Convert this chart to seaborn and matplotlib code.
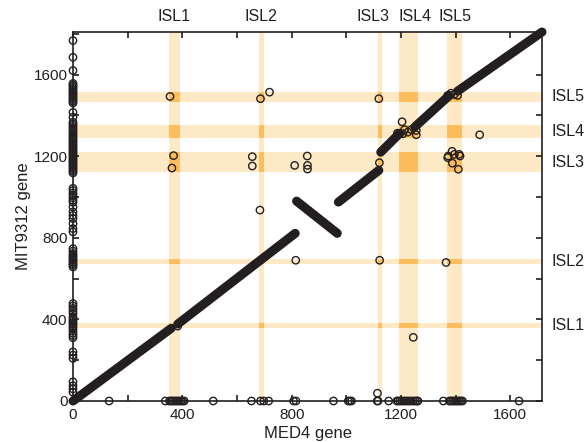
import matplotlib
matplotlib.use("Agg")
import matplotlib.pyplot as plt
import matplotlib.transforms as mtransforms
import seaborn as sns
import pandas as pd
import numpy as np
from matplotlib.patches import Rectangle

# ---------------- data ----------------
med4_total = 1716
mit_total = 1809

isl_names = ["ISL1", "ISL2", "ISL3", "ISL4", "ISL5"]
med4_isl_start = [350, 680, 1116, 1191, 1367]
med4_isl_end = [392, 698, 1131, 1261, 1425]
mit_isl_start = [359, 674, 1122, 1289, 1468]
mit_isl_end = [383, 695, 1220, 1351, 1514]

# syntenic ortholog runs (dense diagonal), endpoints
run_med4_start = [0, 383, 818, 971, 1126, 1250, 1407]
run_mit_start = [0, 377, 980, 975, 1220, 1343, 1519]
run_med4_end = [359, 813, 967, 1119, 1195, 1377, 1716]
run_mit_end = [356, 822, 822, 1131, 1312, 1498, 1809]

# orthologs outside the syntenic runs
off_med4 = [355, 686, 719, 368, 362, 656, 656, 811, 857, 858, 858, 684,
            1119, 1121, 1204, 1195, 1213, 1225, 1238, 1256, 1256, 1207, 1187,
            1488, 1371, 1383, 1395, 1407, 1373, 1387, 1395, 1413, 1416, 1371,
            1388, 1410, 1122, 1365, 1245, 1114, 815, 383]
off_mit = [1493, 1482, 1514, 1203, 1142, 1198, 1152, 1155, 1201, 1155, 1137, 936,
           1482, 1168, 1369, 1310, 1330, 1318, 1330, 1326, 1305, 1310, 1313,
           1305, 1498, 1509, 1503, 1498, 1201, 1224, 1209, 1209, 1201, 1193,
           1166, 1136, 690, 679, 312, 38, 690, 367]

# MIT9312 genes without MED4 ortholog (drawn on the left axis)
mit_only = [1767, 1685, 1620,
            1557, 1549, 1541, 1533, 1525, 1517, 1509, 1501, 1493, 1485, 1477, 1469, 1461,
            1415, 1392,
            1367, 1358, 1349, 1340, 1331, 1322, 1313, 1304, 1295, 1286, 1278,
            1270, 1262, 1254, 1246, 1238, 1230, 1222, 1214, 1206, 1198, 1190, 1182,
            1174, 1166, 1158, 1150, 1142, 1134, 1126, 1118,
            1043, 1032, 1020, 1008, 996, 984, 974,
            951, 927, 910, 894, 870, 845, 829,
            747, 735, 723, 714, 706, 698, 690, 682, 674, 666, 657,
            478, 466, 454, 441, 429, 413, 402, 392, 383, 375, 365, 356, 343, 331, 320, 310,
            241, 225, 209,
            94, 75, 59, 43]

# MED4 genes without MIT9312 ortholog (drawn on the bottom axis)
med4_only = [132, 338, 353, 359, 365, 371, 377, 383, 389, 395, 401, 407,
             513, 653, 686, 698, 716, 807, 816,
             953, 1007, 1013, 1019, 1113, 1116, 1155, 1185,
             1189, 1196, 1203, 1210, 1217, 1224, 1231, 1238, 1245, 1252, 1259, 1262,
             1355, 1377, 1383, 1389, 1395, 1401, 1407, 1413, 1419, 1425, 1632]

# ---------------- figure ----------------
sns.set_theme(style="white")
plt.rcParams['font.family'] = ['Liberation Sans', 'DejaVu Sans']

fig = plt.figure(figsize=(5.84, 4.42), dpi=100)
ax = fig.add_axes([73 / 584, 1 - 401 / 442, (542 - 73) / 584, (401 - 32) / 442])

ink = "#231f20"
band = "#fde9c6"
cross = "#fdbd5c"

ax.set_xlim(0, med4_total)
ax.set_ylim(0, mit_total)

# island bands
for s, e in zip(med4_isl_start, med4_isl_end):
    ax.axvspan(s, e, color=band, lw=0, zorder=0)
for s, e in zip(mit_isl_start, mit_isl_end):
    ax.axhspan(s, e, color=band, lw=0, zorder=0)
for xs, xe in zip(med4_isl_start, med4_isl_end):
    for ys, ye in zip(mit_isl_start, mit_isl_end):
        ax.add_patch(Rectangle((xs, ys), xe - xs, ye - ys, color=cross, lw=0, zorder=0.5))

# syntenic runs
runs = pd.DataFrame({
    "run": list(range(len(run_med4_start))) * 2,
    "MED4": run_med4_start + run_med4_end,
    "MIT9312": run_mit_start + run_mit_end,
})
sns.lineplot(data=runs, x="MED4", y="MIT9312", units="run", estimator=None, sort=False,
             color=ink, linewidth=6.5, solid_capstyle="round", ax=ax, zorder=3,
             clip_on=False, legend=False)

# scattered orthologs and unmatched genes
pts = pd.DataFrame({
    "MED4": off_med4 + [0] * len(mit_only) + med4_only,
    "MIT9312": off_mit + mit_only + [0] * len(med4_only),
})
sns.scatterplot(data=pts, x="MED4", y="MIT9312", marker="o", s=28, facecolor="none",
                edgecolor=ink, linewidth=1.0, ax=ax, zorder=4, clip_on=False, legend=False)

# axes styling
for sp in ax.spines.values():
    sp.set_visible(True)
    sp.set_color(ink)
    sp.set_linewidth(1.2)

xt = np.arange(0, med4_total + 1, 200)
yt = np.arange(0, mit_total + 1, 200)
ax.set_xticks(xt)
ax.set_xticklabels([str(v) if v % 400 == 0 else "" for v in xt])
ax.set_yticks(yt)
ax.set_yticklabels([str(v) if v % 400 == 0 else "" for v in yt])
ax.tick_params(direction="in", length=4.5, width=1.2, color=ink, labelcolor=ink,
               labelsize=11, top=True, right=True, bottom=True, left=True)
ax.tick_params(axis="x", pad=5)
ax.tick_params(axis="y", pad=4)

ax.set_xlabel("MED4 gene", fontsize=12, color=ink, labelpad=3)
ax.set_ylabel("MIT9312 gene", fontsize=12, color=ink, labelpad=2)

# island labels
top_tr = mtransforms.blended_transform_factory(ax.transData, ax.transAxes)
top_shift = [0, 0, -5, 5, 0]
for name, s, e, dx in zip(isl_names, med4_isl_start, med4_isl_end, top_shift):
    tr = mtransforms.offset_copy(top_tr, fig=fig, x=dx, y=6, units="points")
    ax.text((s + e) / 2, 1.0, name, transform=tr, ha="center", va="bottom",
            fontsize=11.5, color=ink)
right_tr = mtransforms.blended_transform_factory(ax.transAxes, ax.transData)
for name, s, e in zip(isl_names, mit_isl_start, mit_isl_end):
    tr = mtransforms.offset_copy(right_tr, fig=fig, x=7, y=0, units="points")
    ax.text(1.0, (s + e) / 2, name, transform=tr, ha="left", va="center",
            fontsize=11.5, color=ink)

fig.savefig("out.png", dpi=100)
